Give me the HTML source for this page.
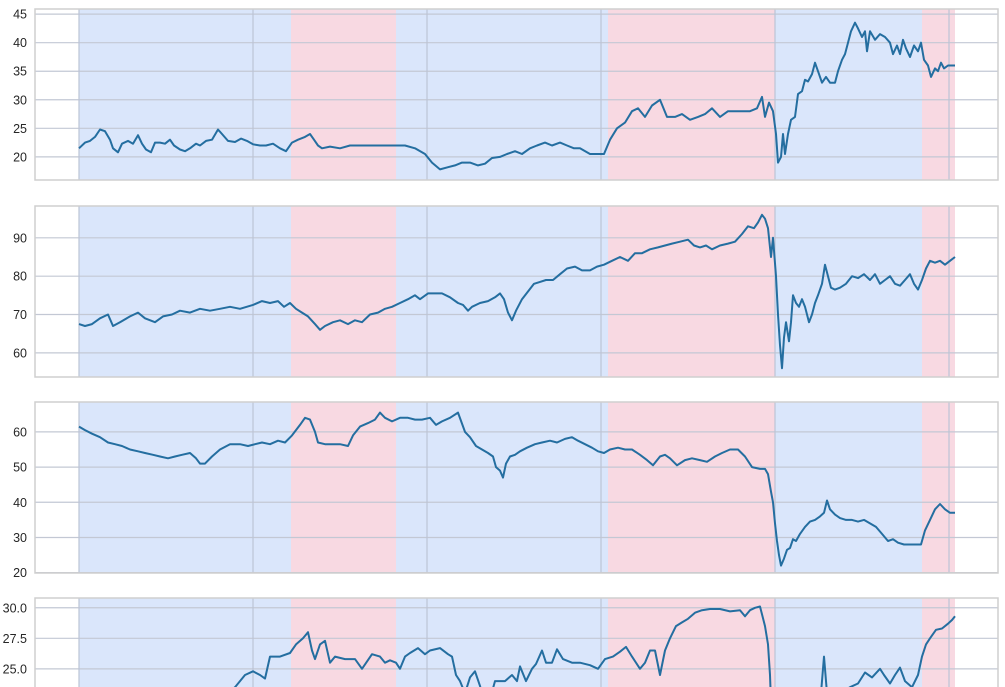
<!DOCTYPE html>
<html><head><meta charset="utf-8">
<style>
html,body{margin:0;padding:0;background:#fff;overflow:hidden;width:1005px;height:687px;}
svg{display:block;font-family:"Liberation Sans",sans-serif;}
</style></head>
<body>
<svg id="chart" width="1005" height="687" viewBox="0 0 1005 687" xmlns="http://www.w3.org/2000/svg"></svg>
<script>
// time in trading sessions (domain spans full axis width)
const tDomain = [-44, 919];
const yearTicks = [0, 174, 348, 522, 696, 870];
const regimeStarts = [0, 212, 317, 529, 696, 843];
const regimeEnds = [212, 317, 529, 696, 843, 876];
const regimeTypes = ["bull", "bear", "bull", "bear", "bull", "bear"];

const t1 = [0,6,11,16,21,26,31,34,39,43,49,54,59,63,67,72,76,81,86,91,95,101,106,111,117,121,127,133,139,143,149,156,162,168,174,181,187,194,201,207,213,219,226,231,235,239,243,251,261,271,281,291,301,316,326,336,346,353,361,369,376,383,391,399,406,413,421,428,436,443,451,458,466,473,481,488,495,501,511,518,525,531,538,546,553,559,566,573,581,588,596,603,611,619,626,633,641,649,656,663,671,678,683,686,690,694,697,699,702,704,706,709,712,716,719,723,726,729,733,736,739,743,747,751,756,759,763,766,769,772,776,779,783,786,788,791,796,801,806,811,814,818,821,824,827,831,835,839,842,845,849,852,856,859,862,865,869,876];
const v1 = [21.5,22.5,22.8,23.5,24.8,24.5,23,21.5,20.8,22.3,22.8,22.3,23.8,22.3,21.3,20.8,22.5,22.5,22.3,23,22,21.3,21,21.5,22.3,22,22.8,23,24.8,24,22.8,22.6,23.2,22.8,22.2,22,22,22.3,21.5,21,22.5,23,23.5,24,23,22,21.5,21.8,21.5,22,22,22,22,22,22,21.5,20.5,19,17.8,18.2,18.5,19,19,18.5,18.8,19.8,20,20.5,21,20.5,21.5,22,22.5,22,22.5,22,21.5,21.5,20.5,20.5,20.5,23,25,26,28,28.5,27,29,30,27,27,27.5,26.5,27,27.5,28.5,27,28,28,28,28,28.5,30.5,27,29.5,28,24,19,20,24,20.5,24,26.5,27,31,31.5,33.5,33.2,34.5,36.5,35,33,34,33,33,35,37,38,40,42,43.5,42.5,41,42,38.5,42,40.5,41.5,41,40,38,39.5,38,40.5,39,37.5,39.5,38.5,40,37,36,34,35.5,35,36.5,35.5,36,36];

const t2 = [0,6,13,21,29,34,41,51,59,66,76,84,93,101,111,121,131,141,151,161,174,183,191,199,205,211,217,223,229,236,241,246,254,261,269,276,283,291,299,306,313,321,329,336,341,349,356,363,371,379,384,389,393,401,409,416,421,425,429,433,437,443,449,455,461,467,474,481,488,496,503,511,518,525,533,541,549,556,563,571,579,586,593,601,609,615,621,627,633,641,649,656,663,669,675,679,683,686,689,692,694,697,699,701,703,705,707,710,712,714,717,720,723,726,730,733,736,739,743,746,749,752,756,761,767,773,779,785,791,796,801,806,811,816,821,826,831,835,839,843,847,851,856,861,866,871,876];
const v2 = [67.5,67,67.5,69,70,67,68,69.5,70.5,69,68,69.5,70,71,70.5,71.5,71,71.5,72,71.5,72.5,73.5,73,73.5,72,73,71.5,70.5,69.5,67.5,66,67,68,68.5,67.5,68.5,68,70,70.5,71.5,72,73,74,75,74,75.5,75.5,75.5,74.5,73,72.5,71,72,73,73.5,74.5,75.5,74,70.5,68.5,71,74,76,78,78.5,79,79,80.5,82,82.5,81.5,81.5,82.5,83,84,85,84,86,86,87,87.5,88,88.5,89,89.5,88,87.5,88,87,88,88.5,89,91,93,92.5,94,96,95,92.5,85,90,80,70,62,56,64,68,63,68,75,73,72,74,72,68,70,73,75,78,83,80,77,76.5,77,78,80,79.5,80.5,79,80.5,78,79,80,78,77.5,79,80.5,78,76.5,79,82,84,83.5,84,83,84,85];

const t3 = [0,6,13,21,29,36,43,51,59,66,74,81,89,96,103,111,117,121,126,133,141,151,161,169,176,183,191,199,206,213,221,226,231,236,239,246,254,261,269,274,281,289,296,301,306,313,321,329,336,343,351,357,363,371,379,386,391,397,403,409,414,417,421,424,427,431,436,441,448,456,463,471,478,486,493,499,506,513,519,525,531,539,546,553,561,568,574,581,586,591,598,606,613,621,628,636,643,651,659,666,673,681,686,689,692,694,696,698,700,702,705,708,711,714,717,721,726,731,736,741,745,748,751,756,761,767,773,779,785,791,797,803,809,814,819,825,831,838,842,846,851,856,861,866,871,876];
const v3 = [61.5,60.5,59.5,58.5,57,56.5,56,55,54.5,54,53.5,53,52.5,53,53.5,54,52.5,51,51,53,55,56.5,56.5,56,56.5,57,56.5,57.5,57,59,62,64,63.5,60,57,56.5,56.5,56.5,56,59,61.5,62.5,63.5,65.5,64,63,64,64,63.5,63.5,64,62,63,64,65.5,60,58.5,56,55,54,53,50,49,47,51,53,53.5,54.5,55.5,56.5,57,57.5,57,58,58.5,57.5,56.5,55.5,54.5,54,55,55.5,55,55,53.5,52,50.5,53,53.5,52.5,50.5,52,52.5,52,51.5,53,54,55,55,53,50,49.5,49.5,48,43,40,34,29,25,22,24,26.5,27,29.5,29,31,33,34.5,35,36,37,40.5,38,36.5,35.5,35,35,34.5,35,34,33,31,29,29.5,28.5,28,28,28,28,32,35,38,39.5,38,37,37];

const t4 = [0,41,101,141,156,166,174,181,186,191,201,211,217,224,229,233,236,241,246,251,256,266,276,283,293,301,306,311,317,321,326,331,339,346,351,361,369,373,377,381,386,391,396,401,406,411,416,426,433,438,441,447,453,457,463,467,473,478,484,493,501,511,519,526,534,541,547,553,561,566,571,576,581,586,591,597,603,609,616,623,631,641,651,661,666,671,676,681,686,689,691,693,701,721,741,745,749,761,771,779,786,793,801,805,811,816,821,826,833,839,843,847,851,857,863,869,873,876];
const v4 = [20,20.5,21.5,22.5,23.5,24.5,24.8,24.5,24.2,26,26,26.3,27,27.5,28,26.5,25.8,27,27.3,25.5,26,25.8,25.8,25,26.2,26,25.5,25.7,25.5,25,26,26.3,26.7,26.2,26.5,26.7,26.2,26,24.5,24,23,24.3,24.8,23.6,22,22.5,24,24,24.5,24,25.2,24,25,25.4,26.5,25.5,25.5,26.6,25.8,25.5,25.5,25.3,25,25.8,26,26.4,26.8,26,25,25.5,26.5,26.5,24.5,26.5,27.5,28.5,28.8,29.1,29.6,29.8,29.9,29.9,29.7,29.8,29.3,29.8,30,30.1,28.5,27,24.5,20,19,20,22,26,22,23,23.5,23.8,24.7,24.3,25,24.5,23.8,24.5,25.1,24,23.5,24.5,26,27,27.5,28.2,28.3,28.7,29,29.3];

const seriesTimes = [t1, t2, t3, t4];
const seriesValues = [v1, v2, v3, v4];
const yDomains = [[15.95, 45.9], [53.7, 98.3], [19.9, 68.5], [16.8, 30.8]];
const yTickValues = [[20,25,30,35,40,45],[60,70,80,90],[20,30,40,50,60],[17.5,20.0,22.5,25.0,27.5,30.0]];
const yTickLabels = [["20","25","30","35","40","45"],["60","70","80","90"],["20","30","40","50","60"],["17.5","20.0","22.5","25.0","27.5","30.0"]];

const NS = "http://www.w3.org/2000/svg";
const svg = document.getElementById("chart");
const L = 35, R = 998, PH = 171;
const panelTops = [9, 206, 402, 598];
function xScale(t){ return L + (t - tDomain[0]) / (tDomain[1] - tDomain[0]) * (R - L); }
function mk(tag, attrs, parent){ const e = document.createElementNS(NS, tag); for (const k in attrs) e.setAttribute(k, attrs[k]); parent.appendChild(e); return e; }

panelTops.forEach((top, p) => {
  const bottom = top + PH;
  const dom = yDomains[p];
  const yScale = v => bottom - (v - dom[0]) / (dom[1] - dom[0]) * PH;
  const g = mk("g", {}, svg);
  
  
  regimeStarts.forEach((s, i) => {
    const r = mk("rect", {x: xScale(s), y: top, width: xScale(regimeEnds[i]) - xScale(s), height: PH,
      fill: regimeTypes[i] === "bull" ? "#dae6fb" : "#f8d9e2"}, g);
    
    
  });
  yTickValues[p].forEach((v, i) => {
    const y = yScale(v);
    const ln = mk("line", {x1: L, x2: R, y1: y, y2: y, stroke: "#c3c8d4", "stroke-width": 1.2}, g);
    
    
    const tx = mk("text", {x: 27, y: y + 4.5, "text-anchor": "end", "font-size": 12.5, fill: "#262626"}, g);
    tx.textContent = yTickLabels[p][i];
    
    
  });
  yearTicks.forEach(t => {
    const x = xScale(t);
    const ln = mk("line", {x1: x, x2: x, y1: top, y2: bottom, stroke: "#bcc4d6", "stroke-width": 1.2}, g);
    
    
  });
  const frame = mk("rect", {x: L, y: top, width: R - L, height: PH, fill: "none", stroke: "#cfcfcf", "stroke-width": 1.5}, g);
  
  
  const ts = seriesTimes[p], vs = seriesValues[p];
  const pts = ts.map((t, i) => xScale(t).toFixed(1) + "," + yScale(vs[i]).toFixed(1)).join(" ");
  const pl = mk("polyline", {points: pts, fill: "none", stroke: "#246ea0", "stroke-width": 2, "stroke-linejoin": "round"}, g);
  
  
});
</script>
</body></html>
